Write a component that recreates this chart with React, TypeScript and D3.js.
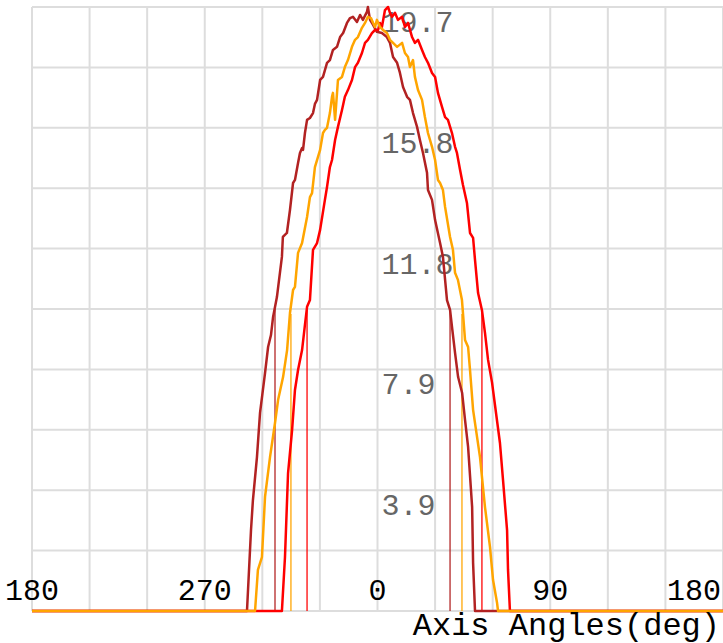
import React from 'react';
import * as d3 from 'd3';

// angle (deg) / value pairs, outside the lobe everything is 0
const brownSeries: [number, number][] = [
  [-180, 0], [-68.0, 0], [-65.9, 2.64], [-64.9, 3.62], [-62.8, 5.02], [-61.2, 6.46], [-58.6, 7.76],
  [-57.0, 8.61], [-55.5, 9.0], [-54.4, 9.59], [-52.4, 10.24], [-49.8, 11.55], [-49.3, 12.2],
  [-47.2, 12.33], [-45.6, 13.08], [-44.0, 13.96], [-43.0, 14.06], [-41.4, 14.61], [-40.4, 14.94],
  [-39.3, 15.1], [-38.8, 15.04], [-37.8, 15.59], [-36.7, 16.02], [-35.2, 16.08], [-33.6, 16.24],
  [-32.6, 16.54], [-31.5, 16.67], [-29.9, 17.32], [-28.4, 17.42], [-26.3, 17.88], [-24.8, 17.97],
  [-23.2, 18.3], [-21.1, 18.4], [-19.5, 18.72], [-17.9, 18.85], [-15.9, 19.18], [-14.3, 19.34],
  [-12.8, 19.38], [-10.7, 19.21], [-9.1, 19.44], [-7.6, 19.28], [-5.5, 19.54], [-5.0, 19.7],
  [-3.9, 19.28], [-2.3, 19.12], [-0.3, 18.89], [2.3, 18.85], [4.9, 18.72], [6.5, 18.53],
  [8.1, 18.07], [10.2, 17.88], [11.7, 17.55], [13.3, 17.09], [15.4, 16.77], [16.9, 16.67],
  [18.5, 16.24], [20.6, 15.79], [22.1, 15.36], [23.7, 14.94], [25.8, 14.29], [26.3, 13.73],
  [28.4, 13.41], [30.0, 12.75], [32.6, 12.0], [34.1, 11.55], [36.2, 10.14], [37.8, 9.82],
  [38.9, 9.22], [40.4, 8.42], [42.0, 7.63], [44.1, 7.11], [45.6, 6.23], [47.2, 5.35],
  [49.3, 3.39], [49.8, 1.57], [50.8, 0], [180, 0],
];

const redSeries: [number, number][] = [
  [-180, 0], [-49.8, 0], [-48.2, 1.76], [-46.6, 4.5], [-44.5, 5.9], [-43.0, 7.21], [-41.4, 7.86],
  [-39.3, 8.51], [-37.8, 9.33], [-36.7, 9.92], [-35.2, 10.14], [-33.6, 11.78], [-31.5, 12.0],
  [-29.9, 12.43], [-27.4, 13.41], [-26.3, 13.83], [-24.8, 14.48], [-23.7, 14.71], [-22.1, 15.36],
  [-20.6, 15.79], [-18.5, 16.34], [-17.0, 16.77], [-15.4, 16.99], [-13.3, 17.32], [-11.7, 17.74],
  [-10.2, 17.88], [-8.1, 18.2], [-6.5, 18.53], [-5.0, 18.63], [-2.9, 18.85], [-1.3, 18.95],
  [0.3, 18.95], [1.3, 19.18], [2.3, 19.05], [3.9, 19.6], [5.5, 19.7], [6.5, 19.51], [7.6, 19.38],
  [9.1, 19.51], [10.7, 19.28], [12.8, 19.38], [14.3, 19.05], [15.9, 19.18], [18.0, 18.72],
  [19.5, 18.53], [21.1, 18.63], [23.2, 18.3], [24.7, 18.07], [26.3, 17.88], [28.4, 17.55],
  [30.0, 17.42], [31.5, 16.9], [33.6, 16.44], [35.2, 16.11], [36.7, 16.02], [38.8, 15.59],
  [40.4, 15.14], [41.4, 14.94], [43.0, 14.39], [44.5, 13.9], [46.6, 13.31], [48.2, 12.33],
  [49.8, 12.17], [50.8, 11.45], [52.4, 10.37], [54.4, 9.82], [56.0, 9.07], [57.6, 8.19],
  [59.7, 7.44], [61.2, 6.72], [63.8, 5.48], [65.4, 4.27], [67.5, 2.64], [68.0, 1.34],
  [69.0, 0], [180, 0],
];

const orangeSeries: [number, number][] = [
  [-180, 0], [-63.8, 0], [-62.3, 1.34], [-60.2, 1.76], [-58.6, 3.72], [-56.0, 5.02], [-53.4, 6.13],
  [-51.8, 6.88], [-49.2, 7.63], [-47.1, 8.51], [-45.6, 9.72], [-44.0, 10.47], [-43.0, 10.57],
  [-41.4, 11.68], [-39.3, 12.0], [-36.7, 12.85], [-35.2, 13.5], [-34.1, 13.63], [-32.6, 14.48],
  [-31.0, 14.81], [-29.9, 15.04], [-28.4, 15.59], [-27.4, 15.69], [-26.3, 15.76], [-24.8, 16.24],
  [-23.7, 16.77], [-23.2, 16.9], [-22.1, 16.02], [-20.6, 17.32], [-18.5, 17.42], [-17.0, 17.74],
  [-15.4, 17.97], [-13.3, 18.4], [-11.7, 18.63], [-10.2, 18.72], [-8.1, 19.02], [-6.5, 19.18],
  [-5.0, 19.38], [-3.4, 19.34], [-2.3, 19.18], [-1.3, 19.05], [-0.3, 19.28], [1.3, 19.05],
  [2.9, 18.95], [4.9, 18.85], [6.5, 18.63], [8.1, 18.53], [10.2, 18.4], [12.8, 18.53],
  [14.3, 18.2], [15.9, 18.07], [16.9, 17.74], [18.5, 17.97], [19.5, 17.42], [21.1, 16.99],
  [23.2, 16.67], [24.7, 16.11], [26.3, 15.59], [28.4, 15.14], [30.0, 14.71], [31.5, 14.06],
  [32.6, 13.96], [34.1, 13.73], [35.2, 13.18], [37.8, 12.2], [39.3, 11.78], [40.4, 11.03],
  [41.9, 10.8], [44.0, 10.14], [45.6, 8.84], [47.2, 8.61], [48.2, 7.86], [49.8, 6.56],
  [53.4, 5.02], [56.0, 3.39], [58.6, 2.09], [60.2, 1.01], [62.3, 0.26], [62.8, 0], [180, 0],
];

// half-power marker angles (deg) per series
const brownMarks = [-53.4, 37.8];
const orangeMarks = [-45.1, 44.0];
const redMarks = [-36.7, 54.4];

const yMax = 19.7;
const xTickValues = [-180, -90, 0, 90, 180];
const xTickLabels = ['180', '270', '0', '90', '180'];
const yTickValues = [3.94, 7.88, 11.82, 15.76, 19.7];
const yTickLabels = ['3.9', '7.9', '11.8', '15.8', '19.7'];

const W = 723;
const H = 643;
const font = 'Courier, "Nimbus Mono PS", "Nimbus Mono L", "Courier New", monospace';

export default function App() {
  const x = d3.scaleLinear().domain([-180, 180]).range([32, 723]);
  const y = d3.scaleLinear().domain([0, yMax]).range([611, 7]);

  const line = d3.line<[number, number]>()
    .x(d => x(d[0]))
    .y(d => y(d[1]));

  const xGrid = d3.range(-180, 181, 30);
  const yGrid = d3.range(0, 11).map(i => (yMax * i) / 10);

  const series = [
    { data: brownSeries, color: '#b22222', marks: brownMarks },
    { data: redSeries, color: '#ff0000', marks: redMarks },
    { data: orangeSeries, color: '#ffa500', marks: orangeMarks },
  ];

  return (
    <svg width={W} height={H} style={{ position: 'absolute', left: 0, top: 0, background: '#fff' }}>
      <g stroke="#dddddd" strokeWidth={2}>
        {xGrid.map(v => (
          <line key={'gx' + v} x1={x(v)} x2={x(v)} y1={y(0)} y2={y(yMax)} />
        ))}
        {yGrid.map((v, i) => (
          <line key={'gy' + i} x1={x(-180)} x2={x(180)} y1={y(v)} y2={y(v)} />
        ))}
      </g>

      {yTickValues.map((v, i) => (
        <text key={'yl' + i} x={x(0) + 4} y={y(v) + 25} fontFamily={font} fontSize={30} fill="#666">
          {yTickLabels[i]}
        </text>
      ))}

      {xTickValues.map((v, i) => (
        <text
          key={'xl' + i}
          x={i === xTickValues.length - 1 ? x(v) - 2 : x(v)}
          y={600}
          fontFamily={font}
          fontSize={30}
          textAnchor={i === xTickValues.length - 1 ? 'end' : 'middle'}
          fill="#000"
        >
          {xTickLabels[i]}
        </text>
      ))}

      {series.map(s => (
        <g key={s.color}>
          {s.marks.map(m => (
            <line
              key={m}
              x1={x(m)}
              x2={x(m)}
              y1={y(0)}
              y2={y(d3.max(s.data, d => d[1])! / 2)}
              stroke={s.color}
              strokeOpacity={0.85}
              strokeWidth={1.5}
            />
          ))}
        </g>
      ))}

      {series.map(s => (
        <path key={'p' + s.color} d={line(s.data) || ''} fill="none" stroke={s.color} strokeWidth={2.5} strokeLinejoin="round" />
      ))}

      <text x={720} y={635} fontFamily={font} fontSize={32} textAnchor="end" fill="#000">
        Axis Angles(deg)
      </text>
    </svg>
  );
}
